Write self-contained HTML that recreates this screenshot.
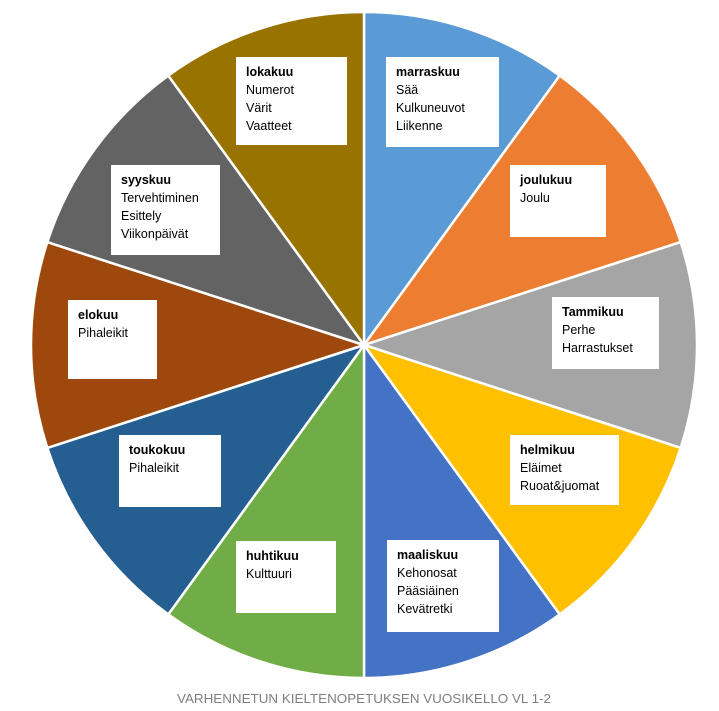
<!DOCTYPE html>
<html><head><meta charset="utf-8"><style>
body{margin:0;width:719px;height:711px;background:#fff;position:relative;overflow:hidden;font-family:"Liberation Sans",sans-serif}
.b{position:absolute;background:#fff;font-size:12.5px;line-height:18px;color:#000;padding:6px 0 0 10px;box-sizing:border-box}
.b b{font-weight:bold}
svg{position:absolute;left:0;top:0}
</style></head><body>
<svg width="719" height="711">
<g stroke="#fff" stroke-width="2.5" stroke-linejoin="round">
<path d="M364 345 L364 12 A333 333 0 0 1 559.7 75.6Z" fill="#5B9BD5"/>
<path d="M364 345 L559.7 75.6 A333 333 0 0 1 680.7 242.1Z" fill="#ED7D31"/>
<path d="M364 345 L680.7 242.1 A333 333 0 0 1 680.7 447.9Z" fill="#A5A5A5"/>
<path d="M364 345 L680.7 447.9 A333 333 0 0 1 559.7 614.4Z" fill="#FFC000"/>
<path d="M364 345 L559.7 614.4 A333 333 0 0 1 364 678Z" fill="#4472C4"/>
<path d="M364 345 L364 678 A333 333 0 0 1 168.3 614.4Z" fill="#70AD47"/>
<path d="M364 345 L168.3 614.4 A333 333 0 0 1 47.3 447.9Z" fill="#255E91"/>
<path d="M364 345 L47.3 447.9 A333 333 0 0 1 47.3 242.1Z" fill="#9E480E"/>
<path d="M364 345 L47.3 242.1 A333 333 0 0 1 168.3 75.6Z" fill="#636363"/>
<path d="M364 345 L168.3 75.6 A333 333 0 0 1 364 12Z" fill="#997300"/>
</g>
<text x="177" y="703" font-family="Liberation Sans, sans-serif" font-size="13" fill="#7f7f7f" textLength="374" lengthAdjust="spacingAndGlyphs">VARHENNETUN KIELTENOPETUKSEN VUOSIKELLO  VL 1-2</text>
</svg>
<div class="b" style="left:386px;top:57px;width:113px;height:90px"><b>marraskuu</b><br>Sää<br>Kulkuneuvot<br>Liikenne</div>
<div class="b" style="left:510px;top:165px;width:96px;height:72px"><b>joulukuu</b><br>Joulu</div>
<div class="b" style="left:552px;top:297px;width:107px;height:72px"><b>Tammikuu</b><br>Perhe<br>Harrastukset</div>
<div class="b" style="left:510px;top:435px;width:109px;height:70px"><b>helmikuu</b><br>Eläimet<br>Ruoat&amp;juomat</div>
<div class="b" style="left:387px;top:540px;width:112px;height:92px"><b>maaliskuu</b><br>Kehonosat<br>Pääsiäinen<br>Kevätretki</div>
<div class="b" style="left:236px;top:541px;width:100px;height:72px"><b>huhtikuu</b><br>Kulttuuri</div>
<div class="b" style="left:119px;top:435px;width:102px;height:72px"><b>toukokuu</b><br>Pihaleikit</div>
<div class="b" style="left:68px;top:300px;width:89px;height:79px"><b>elokuu</b><br>Pihaleikit</div>
<div class="b" style="left:111px;top:165px;width:109px;height:90px"><b>syyskuu</b><br>Tervehtiminen<br>Esittely<br>Viikonpäivät</div>
<div class="b" style="left:236px;top:57px;width:111px;height:88px"><b>lokakuu</b><br>Numerot<br>Värit<br>Vaatteet</div>
</body></html>
